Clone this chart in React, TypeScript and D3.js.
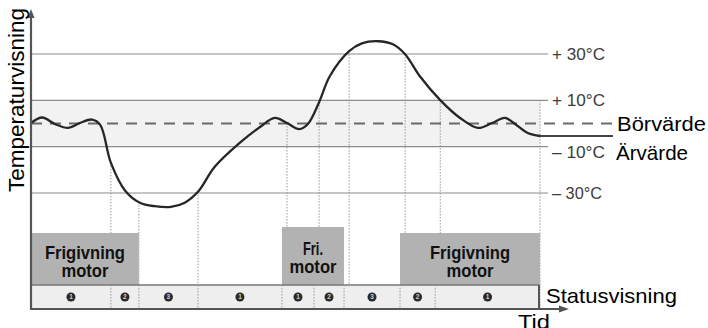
import React from "react";
import * as d3 from "d3";

// Temperature curve (time units 0..100 across the plot, temperature in °C)
const curveTime = [0, 2.2, 4.7, 7.3, 9.6, 12, 13.6, 15.7, 18.5, 21.4, 24.3, 27.5, 30.2, 32.8, 36.1, 41, 45, 47.9, 50.3, 52.7, 54.4, 56.6, 58.7, 62.5, 65, 68.2, 71.1, 73.5, 76.4, 80.4, 84.3, 87.8, 90.6, 93.1, 95.1, 97.6, 100];
const curveTemp = [0.2, 2.6, -0.2, -1.9, 0.2, 1.7, -0.6, -17, -29, -34.2, -35.7, -36, -34.2, -29.5, -18.7, -8.4, -1.5, 2.4, 0.2, -2.4, -0.2, 9.2, 20.4, 31.2, 34.6, 35.5, 34.2, 29.9, 20.4, 10.1, 2.4, -1.9, 0.2, 2.4, -0.2, -4.1, -5.4];

const refTemps = [30, 10, -10, -30];
const refLabels = ["+ 30°C", "+ 10°C", "\u2013 10°C", "\u2013 30°C"];
const setpoint = 0;
const actualValue = -5.4;

// Status segments (boundaries in time units) and their status numbers
const statusBounds = [0, 15.7, 21.2, 32.8, 49.3, 55.6, 61.5, 72.5, 79.4, 100];
const statusCodes = [1, 2, 3, 1, 1, 2, 3, 2, 1];

// Motor release boxes
const releaseStart = [0, 49.3, 72.5];
const releaseEnd = [21.2, 61.5, 100];
const releaseLine1 = ["Frigivning", "Fri.", "Frigivning"];
const releaseLine2 = ["motor", "motor", "motor"];
const releaseTall = [false, true, false];

// Dotted marker lines (time) starting from the curve
const markerTimes = [15.7, 21.2, 32.8, 50.3, 56.6, 62.5, 73.5, 80.4];

export default function App() {
  const W = 708, H = 328;
  const x = d3.scaleLinear().domain([0, 100]).range([31, 540]);
  const y = d3.scaleLinear().domain([-30, 30]).range([193, 54]);
  const pts: [number, number][] = curveTime.map((t, i) => [t, curveTemp[i]]);
  const line = d3
    .line<[number, number]>()
    .x((d) => x(d[0]))
    .y((d) => y(d[1]))
    .curve(d3.curveCatmullRom.alpha(0.5));
  const interp = (t: number) => {
    for (let i = 0; i < curveTime.length - 1; i++) {
      if (t >= curveTime[i] && t <= curveTime[i + 1]) {
        const f = (t - curveTime[i]) / (curveTime[i + 1] - curveTime[i]);
        return curveTemp[i] + f * (curveTemp[i + 1] - curveTemp[i]);
      }
    }
    return 0;
  };
  const axisY = 309;
  const barTop = 285;
  const sans = "'Liberation Sans', Arial, Helvetica, sans-serif";
  const gridRight = 548;

  return (
    <svg width={W} height={H} style={{ position: "absolute", left: 0, top: 0, background: "#fff" }}>
      {/* band between +10 and -10 */}
      <rect x={x(0)} y={y(10)} width={x(100) - x(0)} height={y(-10) - y(10)} fill="#f2f2f2" />
      {/* grid reference lines */}
      {refTemps.map((t, i) => (
        <line key={i} x1={x(0)} x2={gridRight} y1={y(t)} y2={y(t)} stroke="#8c8c8c" strokeWidth={1.2} />
      ))}
      {refTemps.map((t, i) => (
        <text
          key={"l" + i}
          x={552}
          y={y(t) + (t === -10 ? 5 : 0)}
          dy="0.36em"
          fontFamily={sans}
          fontSize={17}
          textLength={t === -30 ? 50 : 53}
          lengthAdjust="spacingAndGlyphs"
          fill="#3c3c3c"
        >
          {refLabels[i]}
        </text>
      ))}
      {/* band right edge dotted */}
      <line x1={x(100)} x2={x(100)} y1={y(10)} y2={axisY} stroke="#999" strokeWidth={1} strokeDasharray="1.5,1.5" />
      {/* dotted markers */}
      {markerTimes.map((t, i) => (
        <line key={"m" + i} x1={x(t)} x2={x(t)} y1={y(interp(t))} y2={axisY} stroke="#999" strokeWidth={1} strokeDasharray="1.5,1.5" />
      ))}
      {/* setpoint dashed line */}
      <line x1={x(0)} x2={614} y1={y(setpoint)} y2={y(setpoint)} stroke="#6a6a6a" strokeWidth={2} strokeDasharray="11,8" />
      {/* actual value flat line */}
      <line x1={x(100)} x2={613} y1={y(actualValue)} y2={y(actualValue)} stroke="#444" strokeWidth={1.8} />
      <text x={617} y={y(setpoint)} dy="0.36em" fontFamily={sans} fontSize={21} textLength={89} lengthAdjust="spacingAndGlyphs" fill="#000">Börvärde</text>
      <text x={616} y={y(actualValue) + 16} dy="0.36em" fontFamily={sans} fontSize={21} textLength={72} lengthAdjust="spacingAndGlyphs" fill="#000">Ärvärde</text>
      {/* release boxes */}
      {releaseStart.map((s, i) => {
        const top = releaseTall[i] ? 227 : 233;
        const cx = (x(s) + x(releaseEnd[i])) / 2;
        const b1 = releaseTall[i] ? 255 : 259;
        return (
          <g key={"r" + i}>
            <rect x={x(s)} y={top} width={x(releaseEnd[i]) - x(s)} height={barTop - top} fill="#b2b2b2" />
            <text x={cx} y={b1} textAnchor="middle" fontFamily={sans} fontWeight="bold" fontSize={19}
              textLength={releaseLine1[i] === "Fri." ? 20 : 80} lengthAdjust="spacingAndGlyphs" fill="#111">
              {releaseLine1[i]}
            </text>
            <text x={cx} y={b1 + 18} textAnchor="middle" fontFamily={sans} fontWeight="bold" fontSize={19}
              textLength={47} lengthAdjust="spacingAndGlyphs" fill="#111">
              {releaseLine2[i]}
            </text>
          </g>
        );
      })}
      {/* status bar */}
      <rect x={x(0)} y={barTop} width={x(100) - x(0) - 1} height={axisY - barTop} fill="#eeeeee" stroke="#777" strokeWidth={1.5} />
      {statusBounds.slice(1, -1).map((b, i) => (
        <line key={"sb" + i} x1={x(b)} x2={x(b)} y1={barTop} y2={axisY} stroke="#999" strokeWidth={1} strokeDasharray="1.5,1.5" />
      ))}
      <line x1={x(100) - 1} x2={x(100) - 1} y1={barTop} y2={axisY} stroke="#555" strokeWidth={2} />
      {statusCodes.map((c, i) => {
        const cx = (x(statusBounds[i]) + x(statusBounds[i + 1])) / 2;
        return (
          <g key={"sc" + i}>
            <circle cx={cx} cy={297} r={4.5} fill="#2a2a2a" />
            <text x={cx} y={297} dy="0.35em" textAnchor="middle" fontFamily={sans} fontWeight="bold" fontSize={6.5} fill="#cfcfcf">
              {c}
            </text>
          </g>
        );
      })}
      {/* temperature curve */}
      <path d={line(pts) || ""} fill="none" stroke="#262626" strokeWidth={2.3} />
      {/* axes */}
      <line x1={31} x2={31} y1={axisY + 1} y2={16} stroke="#555" strokeWidth={2.2} />
      <path d="M31,9 L27.5,18 L34.5,18 Z" fill="#555" />
      <line x1={30} x2={560} y1={axisY} y2={axisY} stroke="#555" strokeWidth={2.2} />
      <path d="M569,309 L559,305.5 L559,312.5 Z" fill="#555" />
      <text x={546} y={295} dy="0.36em" fontFamily={sans} fontSize={21} textLength={131} lengthAdjust="spacingAndGlyphs" fill="#000">Statusvisning</text>
      <text x={534} y={321} dy="0.36em" textAnchor="middle" fontFamily={sans} fontSize={21} textLength={32} lengthAdjust="spacingAndGlyphs" fill="#000">Tid</text>
      <text
        transform={`translate(24,100) rotate(-90)`}
        textAnchor="middle"
        fontFamily={sans}
        fontSize={21.5}
        textLength={184}
        lengthAdjust="spacingAndGlyphs"
        fill="#000"
      >
        Temperaturvisning
      </text>
    </svg>
  );
}
